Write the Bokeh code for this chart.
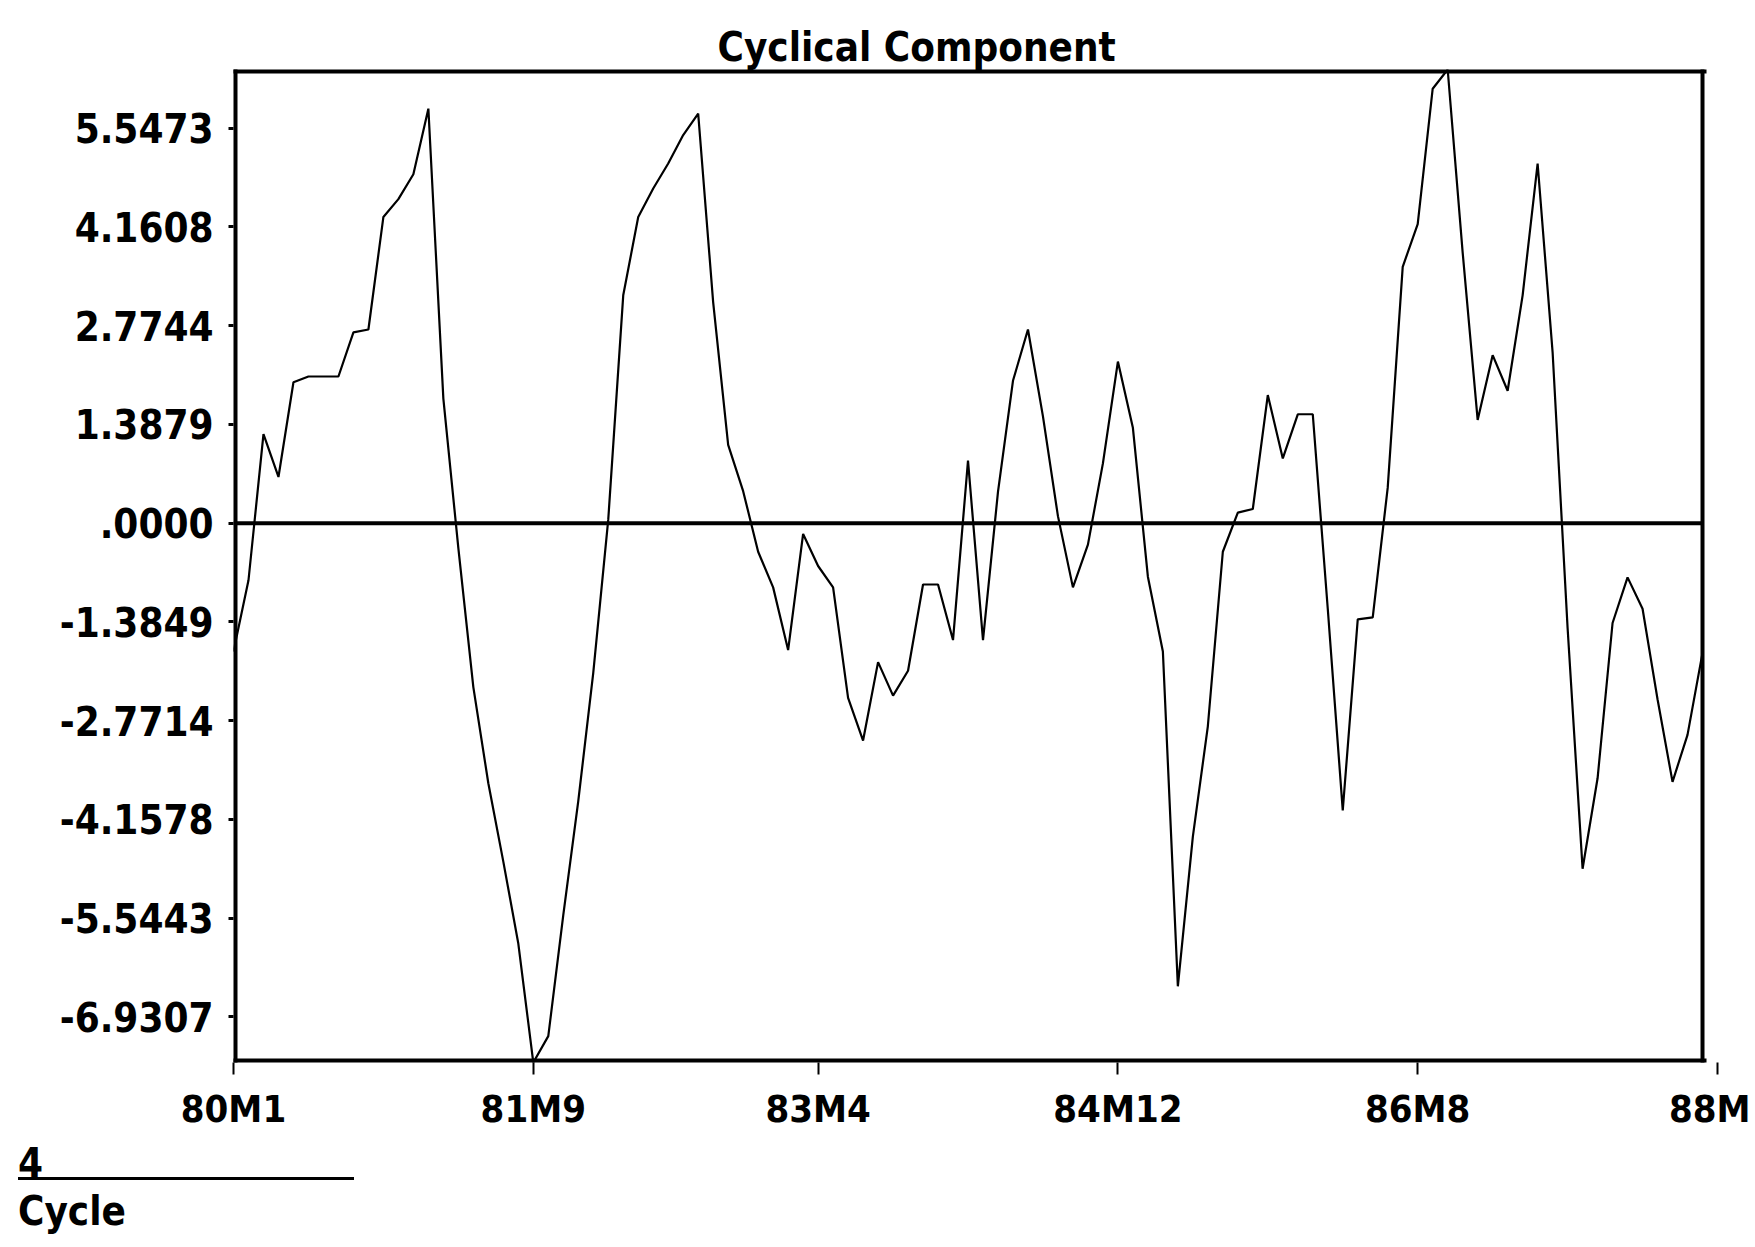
from bokeh.plotting import figure
from bokeh.layouts import column
from bokeh.models import Range1d, FixedTicker, Div
from bokeh.embed import file_html
from bokeh.resources import INLINE

# ---- data (monthly cyclical component, 80M1 .. 88M3) ----
values = [
    -1.80, -0.80, 1.25, 0.65, 1.98, 2.06, 2.06, 2.06, 2.68, 2.72,
    4.30, 4.55, 4.90, 5.82, 1.75, -0.35, -2.30, -3.65, -4.75, -5.90,
    -7.57, -7.20, -5.50, -3.90, -2.10, 0.05, 3.20, 4.30, 4.70, 5.05,
    5.45, 5.75, 3.10, 1.10, 0.45, -0.40, -0.90, -1.78, -0.15, -0.60,
    -0.90, -2.45, -3.05, -1.95, -2.42, -2.07, -0.86, -0.86, -1.64, 0.88,
    -1.64, 0.44, 2.00, 2.72, 1.50, 0.10, -0.90, -0.30, 0.84, 2.27,
    1.34, -0.75, -1.80, -6.50, -4.40, -2.85, -0.40, 0.15, 0.20, 1.80,
    0.91, 1.53, 1.53, -1.20, -4.03, -1.35, -1.32, 0.50, 3.60, 4.20,
    6.10, 6.37, 3.80, 1.45, 2.36, 1.86, 3.20, 5.05, 2.40, -1.47,
    -4.85, -3.58, -1.40, -0.76, -1.20, -2.47, -3.63, -2.97, -1.82,
]
x_tick_pos = [0, 20, 39, 59, 79, 99]
x_tick_labels = ["80M1", "81M9", "83M4", "84M12", "86M8", "88M"]
y_tick_vals = [5.5473, 4.1608, 2.7744, 1.3879, 0.0,
               -1.3849, -2.7714, -4.1578, -5.5443, -6.9307]
y_tick_labels = ["5.5473", "4.1608", "2.7744", "1.3879", ".0000",
                 "-1.3849", "-2.7714", "-4.1578", "-5.5443", "-6.9307"]
title_text = "Cyclical Component"
series_number = "4"
series_name = "Cycle"

FONT = "DejaVu Sans Condensed, Liberation Sans Narrow, Liberation Sans, sans-serif"
n = len(values)
months = list(range(n))
ymin, ymax = min(values), max(values)
x_first, x_last = months[0], months[-1]

W, H1 = 1750, 1138
FRAME_H = 993

p = figure(width=W, height=H1, output_backend="svg", toolbar_location=None,
           x_range=Range1d(x_tick_pos[0], x_tick_pos[-1]), y_range=Range1d(ymin, ymax),
           min_border_left=233, min_border_right=W - 233 - 1484,
           min_border_top=69, min_border_bottom=H1 - 69 - FRAME_H,
           title=title_text)

p.background_fill_color = "white"
p.border_fill_color = "white"
p.outline_line_color = None
p.xgrid.visible = False
p.ygrid.visible = False

p.title.align = "left"
p.title.offset = 484
p.title.standoff = 0
p.title.text_font = FONT
p.title.text_font_style = "bold"
p.title.text_font_size = "40px"
p.title.text_color = "black"

xa = p.xaxis[0]
ya = p.yaxis[0]
for ax in (xa, ya):
    ax.axis_line_color = None
    ax.minor_tick_line_color = None
    ax.major_tick_line_color = "black"
    ax.major_tick_in = 0
    ax.major_label_text_font = FONT
    ax.major_label_text_font_style = "bold"
    ax.major_label_text_color = "black"

xa.ticker = FixedTicker(ticks=x_tick_pos)
xa.major_label_overrides = {t: l for t, l in zip(x_tick_pos, x_tick_labels)}
xa.major_tick_out = 12
xa.major_tick_line_width = 2
xa.major_label_standoff = 12
xa.major_label_text_font_size = "38px"

ya.ticker = FixedTicker(ticks=y_tick_vals)
ya.major_label_overrides = {t: l for t, l in zip(y_tick_vals, y_tick_labels)}
ya.major_tick_out = 5
ya.major_tick_line_width = 3
ya.major_label_standoff = 15
ya.major_label_text_font_size = "40px"

# plot box: it closes at the last observation (the last tick lies just beyond it)
box = dict(line_color="black", line_cap="square")
p.line([x_first, x_last], [ymax, ymax], line_width=8, **box)
p.line([x_first, x_last], [ymin, ymin], line_width=8, **box)
p.line([x_first, x_first], [ymin, ymax], line_width=8, **box)
p.line([x_last, x_last], [ymin, ymax], line_width=4, **box)

# zero reference line
p.line([x_first, x_last], [0, 0], line_width=4, line_color="black")

# the series
p.line(months, values, line_color="black", line_width=2.2)

# ---- series key below the chart: number over a line sample, then the name ----
key_font = "font-family:'DejaVu Sans Condensed','DejaVu Sans',sans-serif;font-weight:bold;font-size:40px;color:black;"
key_html = (
    f"<div style=\"{key_font}padding-left:13px;margin:0;\">"
    f"<div style=\"width:336px;height:37px;line-height:40px;border-bottom:3px solid black;overflow:visible;white-space:nowrap;\">{series_number}</div>"
    f"<div style=\"margin-top:11px;height:40px;line-height:40px;white-space:nowrap;\">{series_name}</div>"
    f"</div>"
)
key = Div(text=key_html, width=420, height=100)

layout = column(p, key, spacing=0)
open("out.html", "w").write(file_html(layout, INLINE))
